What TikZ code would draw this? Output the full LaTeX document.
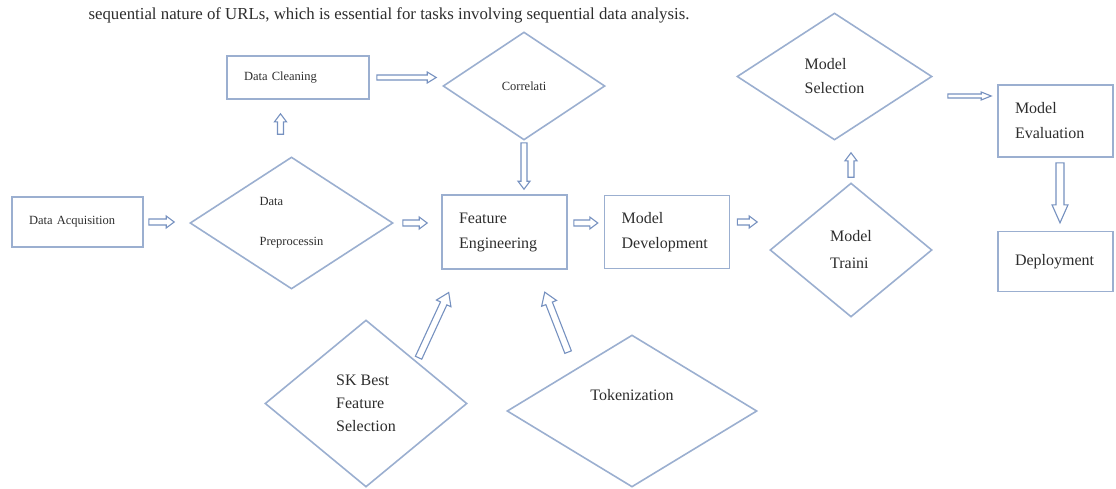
\documentclass[tikz,border=0pt]{standalone}
\usepackage{fontspec}
\setmainfont{Liberation Serif}
\usetikzlibrary{shapes.geometric,positioning,calc}

\definecolor{linecol}{RGB}{155,175,208}
\definecolor{arrowcol}{RGB}{118,145,192}
\definecolor{txtcol}{RGB}{45,45,45}

\tikzset{
  arrgap/.code 2 args={\def\gapa{#1}\def\gapb{#2}},
  arrsize/.code n args={3}{\def\shaftw{#1}\def\headw{#2}\def\tiplen{#3}},
  hollow/.style={draw=arrowcol, line width=1.1pt, fill=white, line join=miter,
    arrgap={5pt}{5pt}, arrsize={3pt}{6pt}{8pt},
    to path={let \p1=($(\tikztostart)!\gapa!(\tikztotarget)$),
                 \p2=($(\tikztotarget)!\gapb!(\tikztostart)$),
                 \p3=($(\p2)!\tiplen!(\p1)$) in
      ($(\p1)!\shaftw!90:(\p2)$) -- ($(\p3)!\shaftw!-90:(\p1)$) -- ($(\p3)!\headw!-90:(\p1)$) -- (\p2)
      -- ($(\p3)!\headw!90:(\p1)$) -- ($(\p3)!\shaftw!90:(\p1)$) -- ($(\p1)!\shaftw!-90:(\p2)$) -- cycle}}
}

\begin{document}
\begin{tikzpicture}[x=1pt, y=-1pt,
  every node/.style={text=txtcol},
  box/.style={draw=linecol, line width=1.6pt, rectangle, inner xsep=17pt, inner ysep=0pt, align=left},
  dia/.style={draw=linecol, line width=1.6pt, diamond, inner sep=0pt, align=left},
  smalltxt/.style={font=\fontsize{12.5}{15}\selectfont},
  bigtxt/.style={font=\fontsize{16}{25}\selectfont}]
\useasboundingbox (0,0) rectangle (1116,488);

\node[anchor=base west, font=\fontsize{16.8}{18}\selectfont] (intro) at (85,19)
  {sequential nature of URLs, which is essential for tasks involving sequential data analysis.};

\node[box, smalltxt, text width=97pt, minimum height=50pt] (da) at (77.5,222) {Data Acquisition};
\node[dia, font=\fontsize{12.5}{40}\selectfont, minimum width=203pt, minimum height=132pt] (dp) at (291.5,223) {Data\\Preprocessin};
\node[box, smalltxt, text width=108pt, minimum height=43pt] (dc) at (298,77.5) {Data Cleaning};
\node[dia, smalltxt, minimum width=162pt, minimum height=108pt] (co) at (524,86) {Correlati};
\node[box, bigtxt, text width=91pt, minimum height=74pt] (fe) at (504.5,232) {Feature\\Engineering};
\node[box, bigtxt, text width=91pt, minimum height=73pt, right=36pt of fe] (md) {Model\\Development};
\node[dia, font=\fontsize{16}{27}\selectfont, minimum width=162pt, minimum height=134pt] (mt) at (851,250) {Model\\Traini};
\node[dia, font=\fontsize{16}{24}\selectfont, minimum width=195pt, minimum height=127pt] (ms) at (834.5,76.5) {Model\\Selection};
\node[box, bigtxt, text width=81pt, minimum height=72pt] (me) at (1055.5,121) {Model\\Evaluation};
\node[box, bigtxt, text width=81pt, minimum height=60pt, below=73pt of me] (dep) {Deployment};
\node[dia, font=\fontsize{16}{23}\selectfont, minimum width=202pt, minimum height=167pt] (sk) at (366,403.5) {SK Best\\Feature\\Selection};
\node[dia, bigtxt, text depth=33pt, minimum width=250pt, minimum height=152pt] (tk) at (632,411) {Tokenization};

\coordinate (dpup) at ([xshift=-11pt]dp.north);
\coordinate (feout) at ([yshift=9pt]fe.east);
\coordinate (mdout) at ([yshift=10pt]md.east);
\coordinate (msout) at ([yshift=-19.5pt]ms.east);
\coordinate (meout) at ([xshift=4.5pt]me.south);
\coordinate (skin) at ([xshift=18pt]fe.south west);
\coordinate (tkin) at ([xshift=31.5pt]fe.south);
\coordinate (tkout) at ([xshift=7pt]tk.north west);

\draw[hollow, arrgap={5pt}{15pt}] (da.east) to (da.east -| dp.west);
\draw[hollow, arrgap={9pt}{14pt}] (dp.east) to (dp.east -| fe.west);
\draw[hollow, arrgap={22pt}{14pt}] (dpup) to (dpup |- dc.south);
\draw[hollow, arrgap={7pt}{6pt}, arrsize={2.5pt}{5.5pt}{9pt}] (dc.east) to (dc.east -| co.west);
\draw[hollow, arrgap={2pt}{5pt}] (co.south) to (co.south |- fe.north);
\draw[hollow, arrgap={6pt}{6pt}] (feout) to (feout -| md.west);
\draw[hollow, arrgap={7pt}{12pt}] (mdout) to (mdout -| mt.west);
\draw[hollow, arrgap={5pt}{12pt}] (mt.north) to (mt.north |- ms.south);
\draw[hollow, arrgap={15pt}{6pt}, arrsize={2pt}{4pt}{10pt}] (msout) to (msout -| me.west);
\draw[hollow, arrgap={5pt}{8pt}, arrsize={4pt}{8pt}{18pt}] (meout) to (meout |- dep.north);
\draw[hollow, arrgap={4pt}{25pt}, arrsize={3.5pt}{8pt}{12pt}] (sk.north east) to (skin);
\draw[hollow, arrgap={22pt}{24pt}, arrsize={3.5pt}{8pt}{12pt}] (tkout) to (tkin);
\end{tikzpicture}
\end{document}
